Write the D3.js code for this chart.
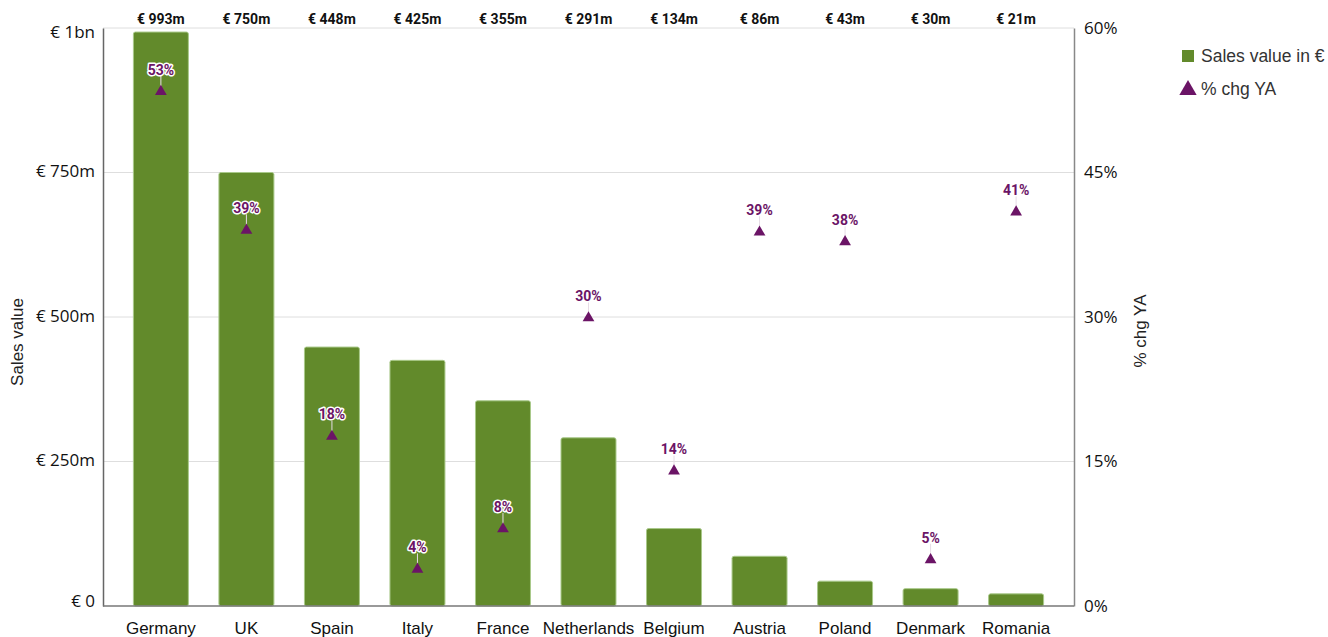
<!DOCTYPE html>
<html>
<head>
<meta charset="utf-8">
<script src="https://cdn.jsdelivr.net/npm/d3@7"></script>
<style>
  body { margin: 0; background: #fff; }
  svg { display: block; }
</style>
</head>
<body>
<svg id="chart" width="1328" height="637"></svg>
<script>
// data
const countries = ["Germany", "UK", "Spain", "Italy", "France", "Netherlands", "Belgium", "Austria", "Poland", "Denmark", "Romania"];
const salesM = [993, 750, 448, 425, 355, 291, 134, 86, 43, 30, 21];
const pctChg = [53.4, 39.0, 17.6, 3.8, 8.0, 29.9, 14.0, 38.8, 37.8, 4.8, 40.9];
const salesTicks = [0, 250, 500, 750, 1000];
const salesTickLabels = ["€ 0", "€ 250m", "€ 500m", "€ 750m", "€ 1bn"];
const pctTicks = [0, 15, 30, 45, 60];

const green = "#628a2b";
const purple = "#6b1466";

const svg = d3.select("#chart");
const margin = {top: 28, left: 103, right: 254, bottom: 31};
const width = 1328 - margin.left - margin.right;
const height = 637 - margin.top - margin.bottom;

const g = svg.append("g").attr("transform", `translate(${margin.left},${margin.top})`);

const x = d3.scaleBand()
    .domain(countries)
    .range([15, width - 15])
    .paddingInner(0.357)
    .paddingOuter(0.18);

const ySales = d3.scaleLinear().domain([0, 1000]).range([height, 0]);
const yPct = d3.scaleLinear().domain([0, 60]).range([height, 0]);

// gridlines
g.append("g")
    .selectAll("line")
    .data(salesTicks.slice(1))
    .join("line")
    .attr("x1", 0).attr("x2", width)
    .attr("y1", d => ySales(d)).attr("y2", d => ySales(d))
    .attr("stroke", "#dedede")
    .attr("stroke-width", 1);

// bars
g.append("g")
    .selectAll("rect")
    .data(salesM)
    .join("rect")
    .attr("x", (d, i) => x(countries[i]))
    .attr("width", x.bandwidth())
    .attr("y", d => ySales(d))
    .attr("height", d => height - ySales(d))
    .attr("rx", 2)
    .attr("fill", green)
    .attr("stroke", "#a9c98a")
    .attr("stroke-width", 1);

// left axis
const leftAxis = g.append("g")
    .call(d3.axisLeft(ySales).tickValues(salesTicks).tickSize(0).tickPadding(8)
        .tickFormat((d, i) => salesTickLabels[i]));
leftAxis.select(".domain").attr("stroke", "#666").attr("stroke-width", 1.5);
leftAxis.selectAll("text")
    .attr("font-family", "Open Sans, sans-serif")
    .attr("font-size", 17)
    .attr("fill", "#111")
    .attr("dy", d => d === 1000 ? "0.55em" : d === 0 ? "0em" : "0.25em");

// right axis
const rightAxis = g.append("g")
    .attr("transform", `translate(${width},0)`)
    .call(d3.axisRight(yPct).tickValues(pctTicks).tickSize(0).tickPadding(10)
        .tickFormat(d => d + "%"));
rightAxis.select(".domain").attr("stroke", "#888").attr("stroke-width", 1.5);
rightAxis.selectAll("text")
    .attr("font-family", "Open Sans, sans-serif")
    .attr("font-size", 17)
    .attr("fill", "#111");

// bottom axis
const bottomAxis = g.append("g")
    .attr("transform", `translate(0,${height})`)
    .call(d3.axisBottom(x).tickSize(0).tickPadding(16));
bottomAxis.select(".domain").attr("d", `M0,0H${width}`).attr("stroke", "#777").attr("stroke-width", 1.5);
bottomAxis.selectAll("text")
    .attr("font-family", "Liberation Sans, Arial, sans-serif")
    .attr("font-size", 17)
    .attr("fill", "#111");

// axis titles
g.append("text")
    .attr("transform", `translate(${-80},${height / 2 + 25}) rotate(-90)`)
    .attr("text-anchor", "middle")
    .attr("font-family", "Liberation Sans, Arial, sans-serif")
    .attr("font-size", 17)
    .attr("fill", "#222")
    .text("Sales value");

g.append("text")
    .attr("transform", `translate(${width + 72},${height / 2 + 14}) rotate(-90)`)
    .attr("text-anchor", "middle")
    .attr("font-family", "Liberation Sans, Arial, sans-serif")
    .attr("font-size", 17)
    .attr("fill", "#222")
    .text("% chg YA");

// sales labels along the top
g.append("g")
    .selectAll("text")
    .data(salesM)
    .join("text")
    .attr("x", (d, i) => x(countries[i]) + x.bandwidth() / 2)
    .attr("y", -4)
    .attr("text-anchor", "middle")
    .attr("font-family", "Roboto, sans-serif")
    .attr("font-weight", "bold")
    .attr("font-size", 14)
    .attr("fill", "#111")
    .text(d => `€ ${d}m`);

// % chg markers
const tri = d3.symbol().type(d3.symbolTriangle).size(60);
const cx = i => x(countries[i]) + x.bandwidth() / 2;

g.append("g")
    .selectAll("line")
    .data(pctChg)
    .join("line")
    .attr("x1", (d, i) => cx(i)).attr("x2", (d, i) => cx(i))
    .attr("y1", d => yPct(d) - 16).attr("y2", d => yPct(d) - 4)
    .attr("stroke", "#e6dce6")
    .attr("stroke-width", 1);

g.append("g")
    .selectAll("path")
    .data(pctChg)
    .join("path")
    .attr("d", tri)
    .attr("transform", (d, i) => `translate(${cx(i)},${yPct(d)})`)
    .attr("fill", purple);

g.append("g")
    .selectAll("text")
    .data(pctChg)
    .join("text")
    .attr("x", (d, i) => cx(i))
    .attr("y", d => yPct(d) - 17)
    .attr("text-anchor", "middle")
    .attr("font-family", "Roboto, sans-serif")
    .attr("font-weight", "bold")
    .attr("font-size", 14)
    .attr("fill", purple)
    .attr("stroke", "#fff")
    .attr("stroke-width", 3)
    .attr("stroke-linejoin", "round")
    .attr("paint-order", "stroke")
    .text(d => Math.round(d) + "%");

// legend
const legend = svg.append("g").attr("transform", "translate(1182,0)");
legend.append("rect")
    .attr("x", 0).attr("y", 50).attr("width", 12).attr("height", 12)
    .attr("fill", green);
legend.append("text")
    .attr("x", 19).attr("y", 62)
    .attr("font-family", "Liberation Sans, Arial, sans-serif")
    .attr("font-size", 17.5)
    .attr("fill", "#333")
    .text("Sales value in €");
legend.append("path")
    .attr("d", d3.symbol().type(d3.symbolTriangle).size(130))
    .attr("transform", "translate(6,90)")
    .attr("fill", purple);
legend.append("text")
    .attr("x", 19).attr("y", 95)
    .attr("font-family", "Liberation Sans, Arial, sans-serif")
    .attr("font-size", 17.5)
    .attr("fill", "#333")
    .text("% chg YA");
</script>
</body>
</html>
